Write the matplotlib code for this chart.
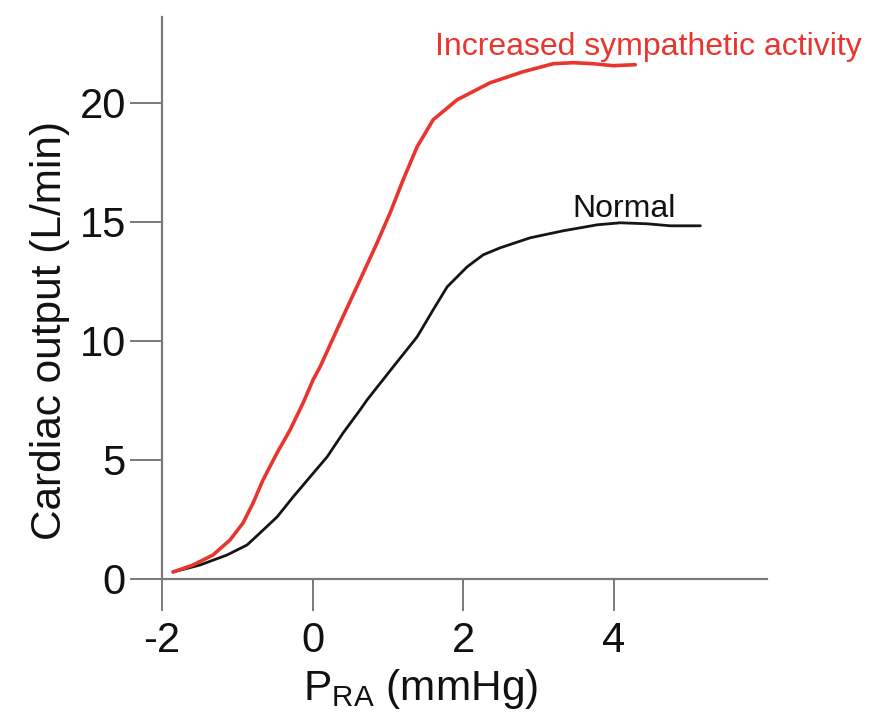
import matplotlib
matplotlib.use("Agg")
import matplotlib.pyplot as plt

plt.rcParams['font.family'] = ['Liberation Sans', 'DejaVu Sans']
plt.rcParams['mathtext.fontset'] = 'custom'
plt.rcParams['mathtext.rm'] = 'Liberation Sans'

normal_x = [-1.854, -1.495, -1.137, -0.871, -0.699, -0.473, -0.260, -0.035, 0.191,
            0.404, 0.629, 0.722, 1.068, 1.386, 1.599, 1.785, 2.050, 2.263, 2.489,
            2.887, 3.325, 3.777, 4.082, 4.441, 4.746, 5.145]
normal_y = [0.294, 0.588, 1.008, 1.429, 1.933, 2.605, 3.445, 4.286, 5.126,
            6.134, 7.101, 7.521, 8.908, 10.168, 11.303, 12.269, 13.109, 13.613, 13.908,
            14.328, 14.622, 14.874, 14.958, 14.916, 14.832, 14.832]

symp_x = [-1.854, -1.588, -1.323, -1.097, -0.924, -0.791, -0.659, -0.473, -0.300,
          -0.127, 0.005, 0.098, 0.364, 0.629, 0.855, 1.028, 1.201, 1.386, 1.599,
          1.918, 2.356, 2.794, 3.193, 3.458, 3.724, 3.989, 4.282]
symp_y = [0.294, 0.588, 1.008, 1.639, 2.353, 3.193, 4.160, 5.294, 6.261,
          7.395, 8.361, 8.908, 10.756, 12.563, 14.118, 15.378, 16.765, 18.151, 19.286,
          20.126, 20.840, 21.303, 21.639, 21.681, 21.639, 21.555, 21.597]

x_ticks = [-2, 0, 2, 4]
y_ticks = [0, 5, 10, 15, 20]

fig = plt.figure(figsize=(8.72, 7.16), dpi=100)
ax = fig.add_axes([162/872, 1-579/716, (767-162)/872, (579-17)/716])

ax.plot(normal_x, normal_y, color='#151515', lw=2.0, solid_capstyle='round',
        solid_joinstyle='round')
ax.plot(symp_x, symp_y, color='#e8352e', lw=2.6, solid_capstyle='round',
        solid_joinstyle='round')

ax.set_xlim(-2, 6.03)
ax.set_ylim(0, 23.6)
ax.set_xticks(x_ticks)
ax.set_yticks(y_ticks)
ax.set_xticklabels([str(v) for v in x_ticks])
ax.set_yticklabels([str(v) for v in y_ticks])

for s in ['top', 'right']:
    ax.spines[s].set_visible(False)
for s in ['left', 'bottom']:
    ax.spines[s].set_color('#7a7a7a')
    ax.spines[s].set_linewidth(1.6)
ax.tick_params(axis='both', direction='out', length=23, width=1.4, color='#7a7a7a',
               labelsize=30, labelcolor='#111111')
ax.tick_params(axis='x', pad=7)
ax.tick_params(axis='y', pad=3)

fig.text(421/872, 1-700/716, 'P$_{\\mathregular{RA}}$ (mmHg)', fontsize=30.5,
         color='#111111', ha='center', va='baseline')
fig.text(50/872, 1-330/716, 'Cardiac output (L/min)', fontsize=30.5,
         color='#111111', ha='center', va='center', rotation=90)

ax.text(1.626, 22.0, 'Increased sympathetic activity', color='#e8352e', fontsize=23,
        ha='left', va='baseline')
ax.text(3.445, 15.21, 'Normal', color='#111111', fontsize=23, ha='left', va='baseline')

fig.savefig('out.png', dpi=100)
